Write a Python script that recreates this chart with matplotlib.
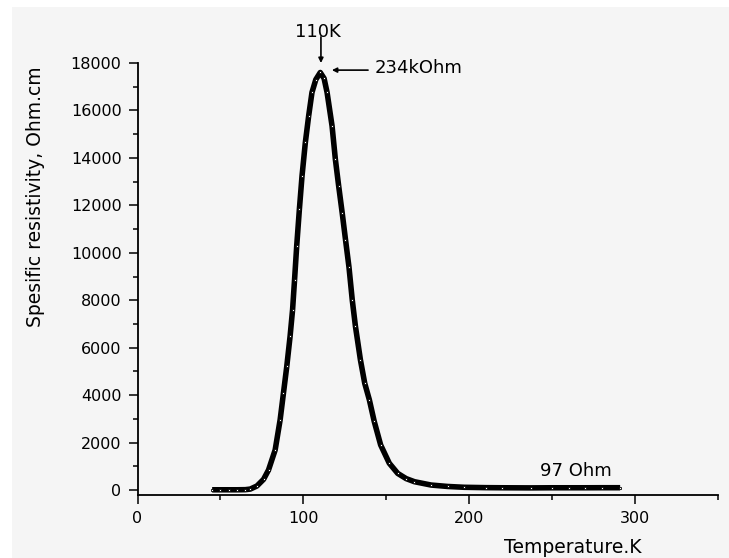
import matplotlib
matplotlib.use("Agg")
import matplotlib.pyplot as plt
from matplotlib.patches import Rectangle
from matplotlib.ticker import MultipleLocator

# ---- data ----
temperature_K = [45, 50, 55, 60, 65, 68, 72, 76, 79, 83, 86, 88, 90, 92, 93.5,
                 94.7, 96, 97.6, 99.2, 101.2, 103.2, 105.2, 107.5, 110.2, 112.5,
                 114.3, 117.3, 119.3, 121.3, 123.4, 125.4, 127.5, 129.5, 131.4,
                 134.4, 137, 139.8, 142.7, 146.6, 151.8, 156.9, 162, 167, 177,
                 187, 197, 210, 220, 237, 250, 260, 270, 280, 291]
resistivity = [10, 10, 10, 10, 15, 40, 170, 450, 845, 1690, 2960, 4085, 5210,
               6480, 7600, 8870, 10300, 11830, 13240, 14650, 15770, 16760,
               17300, 17600, 17350, 16760, 15350, 13940, 12810, 11690, 10560,
               9400, 8000, 6900, 5490, 4500, 3800, 2900, 1900, 1130, 700, 480,
               350, 210, 150, 115, 100, 95, 90, 95, 95, 95, 97, 97]

x_ticks = [0, 100, 200, 300]
y_ticks = [0, 2000, 4000, 6000, 8000, 10000, 12000, 14000, 16000, 18000]
x_label = "Temperature.K"
y_label = "Spesific resistivity, Ohm.cm"
peak_T_label = "110K"
peak_R_label = "234kOhm"
tail_label = "97 Ohm"

W, H = 729, 558
fig = plt.figure(figsize=(W / 100, H / 100), dpi=100, facecolor="white")
fig.patches.append(Rectangle((12 / W, 0), 1, 1 - 7 / H, transform=fig.transFigure,
                             facecolor="#f5f5f5", edgecolor="none", zorder=-10))

ax = fig.add_axes([137.5 / W, 1 - 495 / H, (718 - 137.5) / W, (495 - 63) / H])
ax.set_facecolor("none")

ax.plot(temperature_K, resistivity, color="black", lw=4.0,
        solid_capstyle="butt", solid_joinstyle="round", zorder=3)
ax.plot(temperature_K, resistivity, ls="none", marker="s", ms=2.0,
        mfc="white", mec="black", mew=0.6, zorder=4)

ax.set_xlim(0, 350)
ax.set_ylim(-210, 18000)
ax.set_xticks(x_ticks)
ax.set_yticks(y_ticks)
ax.xaxis.set_minor_locator(MultipleLocator(50))
ax.yaxis.set_minor_locator(MultipleLocator(1000))
ax.tick_params(which="major", direction="out", length=6.5, width=1.1,
               labelsize=11.5, pad=5)
ax.tick_params(which="minor", direction="out", length=3.5, width=1.1)
for s in ("top", "right"):
    ax.spines[s].set_visible(False)
for s in ("left", "bottom"):
    ax.spines[s].set_linewidth(1.3)

# annotations
ax.annotate("", xy=(110.6, 18000), xytext=(110.6, 19100),
            arrowprops=dict(arrowstyle="-|>", color="black", lw=1.2,
                            mutation_scale=7, shrinkA=0, shrinkB=0),
            annotation_clip=False)
ax.text(108.5, 19300, peak_T_label, fontsize=13, ha="center", va="center",
        clip_on=False)
ax.annotate("", xy=(117.2, 17700), xytext=(139, 17700),
            arrowprops=dict(arrowstyle="-|>", color="black", lw=1.2,
                            mutation_scale=7, shrinkA=0, shrinkB=0),
            annotation_clip=False)
ax.text(143.2, 17790, peak_R_label, fontsize=13, ha="left", va="center",
        clip_on=False)
ax.text(242.6, 815, tail_label, fontsize=13, ha="left", va="center")

fig.text(642 / W, 1 - 553 / H, x_label, fontsize=13.5, ha="right",
         va="baseline")
fig.text(36 / W, 1 - 196.5 / H, y_label, fontsize=13.5, rotation=90,
         ha="center", va="center")

fig.savefig("out.png", dpi=100)
